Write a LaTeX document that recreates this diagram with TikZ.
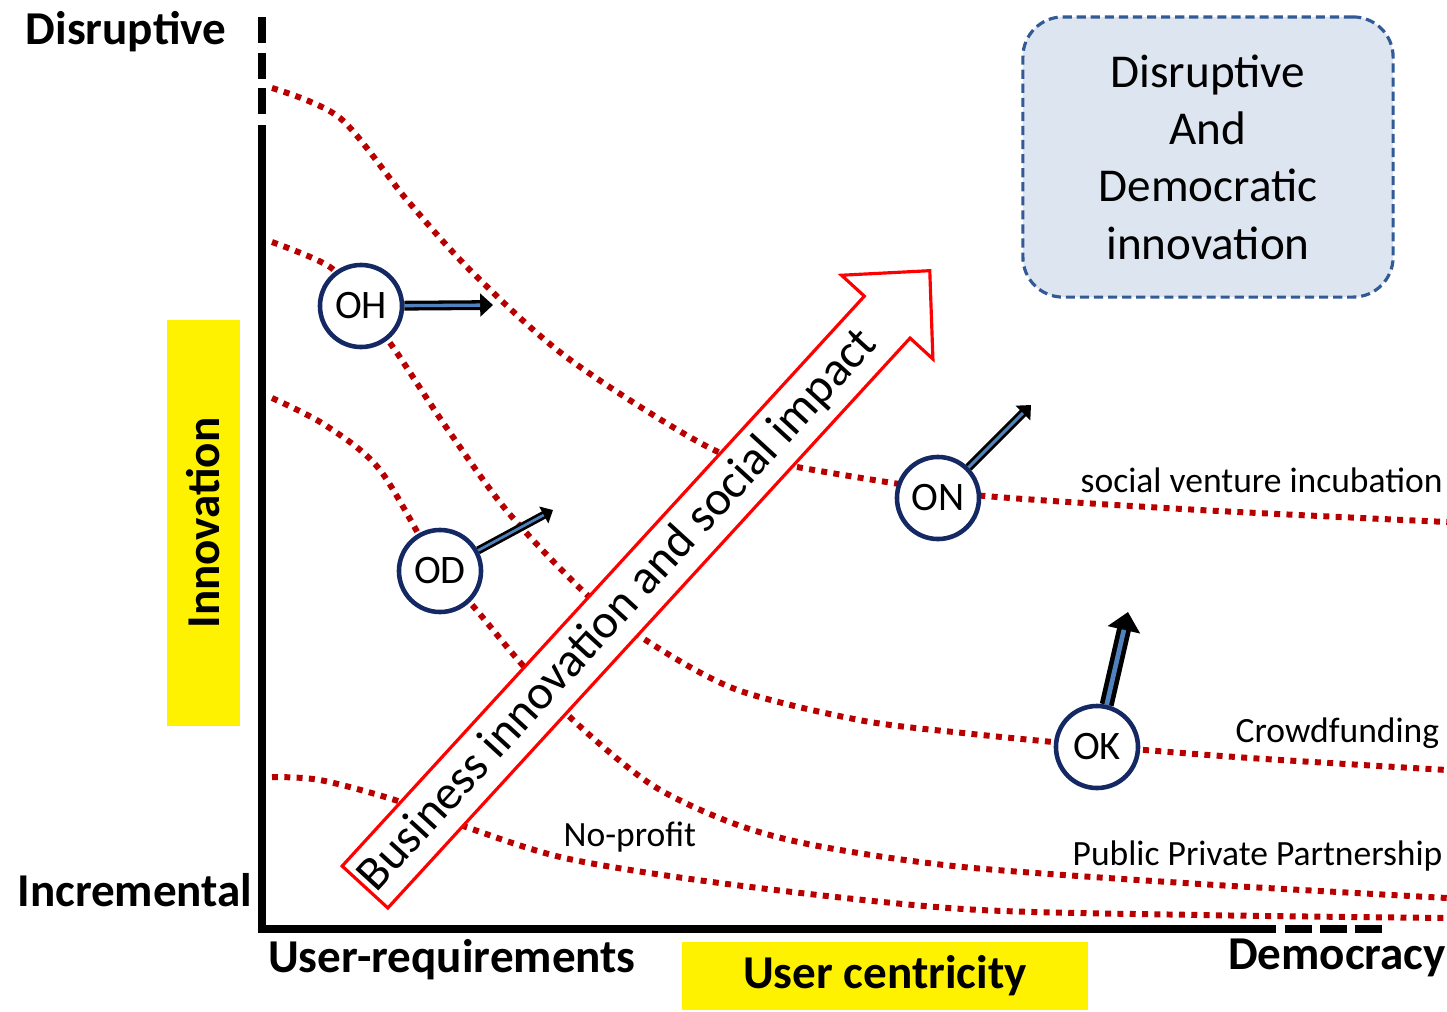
\documentclass[tikz,border=0pt]{standalone}
\usepackage{fontspec}
\setmainfont{Carlito}
\usetikzlibrary{arrows.meta}
\definecolor{dotred}{RGB}{185,0,0}
\definecolor{ringblue}{RGB}{20,40,100}
\definecolor{shaftblue}{RGB}{80,130,190}
\definecolor{boxfill}{RGB}{221,229,240}
\definecolor{boxline}{RGB}{50,90,150}
\tikzset{
  curve/.style={draw=dotred, line width=1.7pt, dash pattern=on 1.7pt off 1.8pt},
  org/.style={circle, draw=ringblue, line width=1.3pt, fill=white, minimum size=0.82cm, inner sep=0pt, font=\fontsize{11.5}{12}\selectfont},
  push/.style={draw=black, line width=#1, -{Triangle[length=0pt 1.3, width=0pt 2.3]},
    postaction={draw=shaftblue, line width=#1/3, shorten >=#1*1.3, -}},
  axislabel/.style={font=\fontsize{13.4}{16}\selectfont\bfseries, inner sep=0pt},
  tag/.style={font=\fontsize{10.1}{12}\selectfont, inner sep=0pt, anchor=base west},
  highlight/.style={fill=yellow, inner sep=0pt, font=\fontsize{13.4}{16}\selectfont\bfseries}
}
\begin{document}
\begin{tikzpicture}[x=0.01cm, y=-0.01cm]
	%%%%% START %%%%%
	\useasboundingbox (0,0) rectangle (1447,1011);
	
	% dotted curves
	\draw[curve] plot[smooth] coordinates {(272,88) (340,118) (407,200) (473,273) (569,359) (714,450) (797,467) (893,483) (985,496) (1200,510) (1447,522)};
	\draw[curve] plot[smooth] coordinates {(272,242) (330,267) (361,305) (395,350) (444,424) (507,511) (585,593) (644,639) (735,689) (859,720) (963,733) (1097,746) (1250,758) (1447,770)};
	\draw[curve] plot[smooth] coordinates {(272,398) (325,425) (380,470) (440,571) (473,606) (519,661) (573,720) (652,785) (735,824) (818,846) (963,867) (1200,884) (1447,898)};
	\draw[curve] plot[smooth] coordinates {(272,777) (320,780) (395,800) (469,828) (569,859) (735,885) (963,909) (1200,915) (1447,918)};
	
	% axes
	\draw[line width=2.3pt, line join=miter] (262,125) -- (262,929) -- (1276,929);
	\draw[line width=2.3pt, dash pattern=on 7.5pt off 2.6pt] (262,17) -- (262,118);
	\draw[line width=2.3pt, dash pattern=on 7.7pt off 2.3pt] (1285,929) -- (1385,929);
	
	% big arrow
	\begin{scope}[shift={(365,887)}, rotate=47.5]
		\draw[draw=red, line width=0.9pt, fill=white, line join=miter] (0,-31) -- (773,-31) -- (773,-62) -- (836,0) -- (773,62) -- (773,31) -- (0,31) -- cycle;
		\node[rotate=47.5, inner sep=0pt, font=\fontsize{13.8}{16}\selectfont] (impact) at (375,0) {Business innovation and social impact};
	\end{scope}
	
	% organisations
	\node[org] (oh) at (361,306) {OH};
	\node[org] (od) at (440,571) {OD};
	\node[org] (on) at (938,498) {ON};
	\node[org] (ok) at (1097,747) {OK};
	
	\coordinate (ohend) at (493,305);
	\coordinate (odend) at (553,510);
	\coordinate (onend) at (1031,405);
	\coordinate (okend) at (1128,612);
	\draw[push=2.8pt] (oh) -- (ohend);
	\draw[push=2.3pt] (od) -- (odend);
	\draw[push=2.5pt] (on) -- (onend);
	\draw[push=4pt] (ok) -- (okend);
	
	% curve labels
	\node[tag] (svi) at (1080,492) {social venture incubation};
	\node[tag] (crowd) at (1235,742) {Crowdfunding};
	\node[tag] (ppp) at (1072,865) {Public Private Partnership};
	\node[tag] (noprofit) at (563,846) {No-profit};
	
	% axis labels
	\node[axislabel, anchor=base] (disr) at (126,44) {Disruptive};
	\node[axislabel, anchor=base] (incr) at (135,906) {Incremental};
	\node[highlight, rotate=90, minimum width=4.06cm, minimum height=0.73cm] (innov) at (203.5,523) {Innovation};
	\node[axislabel, anchor=base] (userreq) at (452,972) {User-requirements};
	\node[highlight, minimum width=4.06cm, minimum height=0.68cm] (usercen) at (885,976) {User centricity};
	\node[axislabel, anchor=base] (demo) at (1337,969) {Democracy};
	
	% goal box
	\node[draw=boxline, line width=0.9pt, dash pattern=on 2.6pt off 1.4pt, fill=boxfill, rounded corners=0.4cm, minimum width=3.7cm, minimum height=2.8cm, align=center, font=\fontsize{13.4}{16.3}\selectfont] (goal) at (1208,157) {Disruptive\\And\\Democratic\\innovation};
	
	%%%%% END %%%%%
\end{tikzpicture}
\end{document}
